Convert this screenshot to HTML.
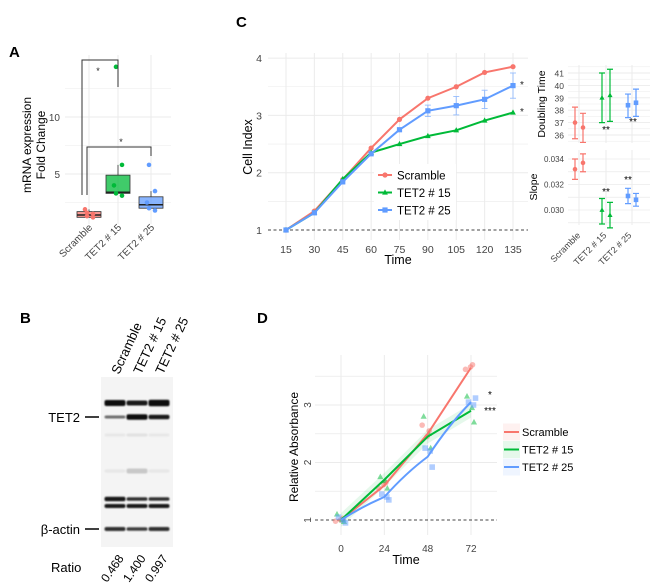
<!DOCTYPE html>
<html><head><meta charset="utf-8"><style>
body{margin:0;background:#fff;width:650px;height:583px;overflow:hidden}
svg{font-family:"Liberation Sans",sans-serif;display:block}
</style></head><body>
<svg id="fig" width="650" height="583" viewBox="0 0 650 583">
<defs><filter id="blur" x="-20%" y="-100%" width="140%" height="300%"><feGaussianBlur stdDeviation="0.9"/></filter></defs>
<g id="A"></g>
<g id="B"></g>
<g id="C"></g>
<g id="D"></g>
</svg>
<script>
// ---- Panel A data ----
const aCats=["Scramble","TET2 # 15","TET2 # 25"];
const aBoxLo=[1.2,3.3,2.0];
const aBoxMed=[1.4,3.4,2.3];
const aBoxHi=[1.7,4.9,3.0];
const aWhiskHi=[1.9,5.8,3.5];
const aPts=[[1.3,1.5,1.9,1.6,1.2],[14.4,5.8,4.0,3.3,3.1],[5.8,3.5,2.5,2.0,1.8]];
const aTicks=[5,10];
// ---- Panel C data ----
const cTimes=[15,30,45,60,75,90,105,120,135];
const cScr=[1,1.33,1.88,2.43,2.93,3.3,3.5,3.75,3.85];
const cT15=[1,1.3,1.89,2.35,2.5,2.64,2.74,2.91,3.05];
const cT25=[1,1.3,1.84,2.33,2.75,3.08,3.17,3.28,3.52];
const cT25Err=[0,0,0,0,0,0.1,0.16,0.16,0.22];
const cYTicks=[1,2,3,4];
const dtMean=[37,36.6,39,39.2,38.4,38.6];
const dtLo=[35.7,35.4,37,37.1,37.4,37.5];
const dtHi=[38.25,37.75,41,41.3,39.3,39.7];
const dtTicks=[36,37,38,39,40,41];
const slMean=[0.0332,0.0337,0.0300,0.0296,0.0311,0.0308];
const slLo=[0.0324,0.0330,0.0289,0.0286,0.0305,0.0303];
const slHi=[0.0340,0.0344,0.0309,0.0306,0.0317,0.0313];
const slTicks=[0.030,0.032,0.034];
// ---- Panel D data ----
const dTimes=[0,24,48,72];
const dScr=[1,1.6,2.5,3.65];
const dT15=[1,1.7,2.45,2.9];
const dT25=[1,1.4,2.1,3.05];
const dScrPts=[[0.98,1.03,1.0],[1.55,1.65,1.62],[2.65,2.55,2.45],[3.62,3.7,3.66]];
const dT15Pts=[[1.1,0.97,1.0],[1.75,1.55,1.68],[2.8,2.25,2.5],[3.15,2.7,2.95]];
const dT25Pts=[[1.05,0.95,1.0],[1.45,1.35,1.4],[2.25,1.92,2.2],[3.05,3.12,3.0]];
const dYTicks=[1,2,3];
// ---- Panel B data ----
const bLanes=["Scramble","TET2 # 15","TET2 # 25"];
const bRatios=["0.468","1.400","0.997"];

const NS="http://www.w3.org/2000/svg";
const RED="#f8766d",GRN="#00ba38",BLU="#619cff";
const COLS=[RED,GRN,BLU];
function mk(p,t,a,txt){const e=document.createElementNS(NS,t);for(const k in a)e.setAttribute(k,a[k]);if(txt!=null)e.textContent=txt;p.appendChild(e);return e;}
function label(p,x,y,txt,size,anchor,extra){return mk(p,'text',Object.assign({x:x,y:y,'font-size':size,'text-anchor':anchor||'middle',fill:'#222'},extra||{}),txt);}

// ===== Panel A =====
(function(){
const g=document.getElementById('A');
let t=label(g,9,57,'A',15,'start',{'font-weight':'bold',fill:'#000'});

const yA=v=>174-(v-5)*11.4, xA=i=>[89,118,151][i];
for(let v=2.5;v<=12.5;v+=2.5){const l=mk(g,'line',{x1:65,x2:171,y1:yA(v),y2:yA(v),stroke:'#ebebeb','stroke-width':v%5?0.6:1});}
for(let i=0;i<3;i++){const l=mk(g,'line',{x1:xA(i),x2:xA(i),y1:55,y2:224,stroke:'#ebebeb','stroke-width':1});}
aTicks.forEach(v=>{const e=label(g,60,yA(v)+4,String(v),10,'end',{fill:'#444'});});
const y1=label(g,31,145,'mRNA expression',12,'middle',{transform:'rotate(-90 31 145)',fill:'#000'});

const y2=label(g,45,145,'Fold Change',12,'middle',{transform:'rotate(-90 45 145)',fill:'#000'});

aCats.forEach((c,i)=>{
 const x=xA(i);
 const w=mk(g,'line',{x1:x,x2:x,y1:yA(aWhiskHi[i]),y2:yA(aBoxHi[i]),stroke:'#555'});
 const b=mk(g,'rect',{x:x-12,y:yA(aBoxHi[i]),width:24,height:yA(aBoxLo[i])-yA(aBoxHi[i]),fill:COLS[i],'fill-opacity':0.75,stroke:'#333','stroke-width':0.8});
 
 const m=mk(g,'line',{x1:x-12,x2:x+12,y1:yA(aBoxMed[i]),y2:yA(aBoxMed[i]),stroke:'#222','stroke-width':1.5});
 aPts[i].forEach((v,j)=>{const p=mk(g,'circle',{cx:x+[-2,4,-4,-2,4][j],cy:yA(v),r:2.3,fill:COLS[i]});});
 const lb=label(g,x+4,228,c,10,'end',{transform:`rotate(-45 ${x+4} 228)`,fill:'#444'});
});
const br=mk(g,'path',{d:'M82 195V60H118V87',fill:'none',stroke:'#333','stroke-width':1});
const br2=mk(g,'path',{d:'M87 195V147H151V156',fill:'none',stroke:'#333','stroke-width':1});
let s=label(g,98,74,'*',9);
s=label(g,121,145,'*',9);
})();

// ===== Panel B =====
(function(){
const g=document.getElementById('B');
let t=label(g,20,323,'B',15,'start',{'font-weight':'bold',fill:'#000'});
const blot=mk(g,'rect',{x:101,y:377,width:72,height:170,fill:'#f4f4f4'});
const lanes=[115,137,159];
const bands=[[403,[6,5,6.5],[1,0.95,1]],[417,[3,5.5,4.5],[0.6,1,0.95]],[435,[3,3,3],[0.05,0.08,0.05]],[471,[3,5,3],[0.06,0.18,0.06]],[499,[4.5,3.5,3.5],[0.95,0.85,0.85]],[506,[4,4,4],[0.95,0.95,0.95]],[529,[4,3.5,4],[0.85,0.8,0.85]]];
const bg=mk(g,'g',{filter:'url(#blur)'});
bands.forEach(b=>lanes.forEach((x,i)=>{const r=mk(bg,'rect',{x:x-10.5,y:b[0]-b[1][i]/2,width:21,height:b[1][i],rx:2,fill:'#111','fill-opacity':b[2][i]});}));
bLanes.forEach((n,i)=>{const x=lanes[i]+4;const e=label(g,x,375,n,13,'start',{transform:`rotate(-65 ${x} 375)`,fill:'#000'});});
let e=label(g,80,422,'TET2',13,'end',{fill:'#000'});
mk(g,'line',{x1:85,x2:99,y1:417,y2:417,stroke:'#000','stroke-width':1.5});
e=label(g,80,534,'β-actin',13,'end',{fill:'#000'});
mk(g,'line',{x1:85,x2:99,y1:529,y2:529,stroke:'#000','stroke-width':1.5});
e=label(g,51,572,'Ratio',13,'start',{fill:'#000'});
bRatios.forEach((r,i)=>{const x=lanes[i]-8,y=583;const el=label(g,x,y,r,12,'start',{transform:`rotate(-55 ${x} ${y})`,fill:'#000'});});
})();

// ===== Panel C =====
(function(){
const g=document.getElementById('C');
let t=label(g,236,27,'C',15,'start',{'font-weight':'bold',fill:'#000'});
const xC=v=>286+(v-15)*(227/120), yC=v=>230-(v-1)*57.3;
for(let v=1.5;v<=4;v+=0.5){const l=mk(g,'line',{x1:268,x2:528,y1:yC(v),y2:yC(v),stroke:'#ebebeb','stroke-width':v%1?0.6:1});}
cTimes.forEach(v=>{const l=mk(g,'line',{x1:xC(v),x2:xC(v),y1:53,y2:240,stroke:'#ebebeb'});
 const e=label(g,xC(v),253,String(v),10.5,'middle',{fill:'#444'});});
cYTicks.forEach(v=>{const e=label(g,262,yC(v)+4,String(v),10.5,'end',{fill:'#444'});});
const dl=mk(g,'line',{x1:268,x2:528,y1:yC(1),y2:yC(1),stroke:'#444','stroke-dasharray':'3,2.5','stroke-width':1});
let e=label(g,398,264,'Time',12.5,'middle',{fill:'#000'});
e=label(g,252,147,'Cell Index',12.5,'middle',{transform:'rotate(-90 252 147)',fill:'#000'});
function marker(p,x,y,i,sz,op){let m;
 if(i===0)m=mk(p,'circle',{cx:x,cy:y,r:sz,fill:COLS[0],'fill-opacity':op});
 else if(i===1)m=mk(p,'path',{d:`M${x} ${y-sz*1.2}L${x+sz*1.1} ${y+sz*0.8}L${x-sz*1.1} ${y+sz*0.8}Z`,fill:COLS[1],'fill-opacity':op});
 else m=mk(p,'rect',{x:x-sz,y:y-sz,width:2*sz,height:2*sz,fill:COLS[2],'fill-opacity':op});
 return m;}
cTimes.forEach((v,k)=>{if(!cT25Err[k])return;const x=xC(v),lo=yC(cT25[k]-cT25Err[k]),hi=yC(cT25[k]+cT25Err[k]);
 const eb=mk(g,'path',{d:`M${x} ${lo}V${hi}M${x-3} ${lo}H${x+3}M${x-3} ${hi}H${x+3}`,stroke:BLU,'stroke-opacity':0.6,fill:'none'});});
[cScr,cT15,cT25].forEach((s,i)=>{
 const ln=mk(g,'polyline',{points:s.map((v,k)=>xC(cTimes[k])+','+yC(v)).join(' '),fill:'none',stroke:COLS[i],'stroke-width':2});
 
 s.forEach((v,k)=>{const m=marker(g,xC(cTimes[k]),yC(v),i,2.6,1);});
});
e=label(g,522,88,'*',10);
e=label(g,522,115,'*',10);
const lg=mk(g,'g',{});
mk(lg,'rect',{x:374,y:164,width:82,height:56,fill:'#fff'});
['Scramble','TET2 # 15','TET2 # 25'].forEach((n,i)=>{const y=175+i*17.5;
 const ent=mk(lg,'g',{});
 mk(ent,'line',{x1:378,x2:392,y1:y,y2:y,stroke:COLS[i],'stroke-width':2});marker(ent,385,y,i,2.6,1);
 label(ent,397,y+4.5,n,11.5,'start',{fill:'#000'});});
const xs=[575,583,602,610,628,636];
const yD=v=>135-(v-36)*12.4;
for(let v=35.5;v<=41.5;v+=0.5){const l=mk(g,'line',{x1:568,x2:650,y1:yD(v),y2:yD(v),stroke:'#ebebeb','stroke-width':v%1?0.5:0.9});}
[579,606,632].forEach(x=>{mk(g,'line',{x1:x,x2:x,y1:65,y2:143,stroke:'#ebebeb'});mk(g,'line',{x1:x,x2:x,y1:150,y2:225,stroke:'#ebebeb'});});
dtTicks.forEach(v=>{const e2=label(g,564,yD(v)+3.5,String(v),8.5,'end',{fill:'#444'});});
e=label(g,545,104,'Doubling Time',10.5,'middle',{transform:'rotate(-90 545 104)',fill:'#000'});
const ySl=v=>210-(v-0.030)*12750;
for(let v=0.029;v<=0.0345;v+=0.001){const l=mk(g,'line',{x1:568,x2:650,y1:ySl(v),y2:ySl(v),stroke:'#ebebeb','stroke-width':0.7});}
slTicks.forEach(v=>{const e2=label(g,564,ySl(v)+3,v.toFixed(3),8,'end',{fill:'#444'});});
e=label(g,537,187,'Slope',10.5,'middle',{transform:'rotate(-90 537 187)',fill:'#000'});
function ebar(x,lo,hi,m,i){const c=COLS[i];
 const eb=mk(g,'path',{d:`M${x} ${lo}V${hi}M${x-3} ${lo}H${x+3}M${x-3} ${hi}H${x+3}`,stroke:c,'stroke-width':1.2,fill:'none'});
 const mm=marker(g,x,m,i,2.3,1);}
dtMean.forEach((v,k)=>ebar(xs[k],yD(dtLo[k]),yD(dtHi[k]),yD(v),Math.floor(k/2)));
slMean.forEach((v,k)=>ebar(xs[k],ySl(slLo[k]),ySl(slHi[k]),ySl(v),Math.floor(k/2)));
[[606,133],[633,125],[606,195],[628,183]].forEach(p=>{const s=label(g,p[0],p[1],'**',10,'middle',{fill:'#000'});});
['Scramble','TET2 # 15','TET2 # 25'].forEach((n,i)=>{const x=[581,607,632][i];const e2=label(g,x,236,n,9,'end',{transform:`rotate(-45 ${x} 236)`,fill:'#444'});});
})();

// ===== Panel D =====
(function(){
const g=document.getElementById('D');
let t=label(g,257,323,'D',15,'start',{'font-weight':'bold',fill:'#000'});
const xD=v=>341+v*(130/72), yD=v=>520-(v-1)*57.5;
for(let v=1.5;v<=3.5;v+=0.5){const l=mk(g,'line',{x1:315,x2:497,y1:yD(v),y2:yD(v),stroke:'#ebebeb','stroke-width':v%1?0.7:1.1});}
dTimes.forEach(v=>{const l=mk(g,'line',{x1:xD(v),x2:xD(v),y1:355,y2:535,stroke:'#ebebeb'});
 const e=label(g,xD(v),552,String(v),10,'middle',{fill:'#444'});});
dYTicks.forEach(v=>{const y=yD(v);const e=label(g,311,y,String(v),10,'middle',{transform:`rotate(-90 311 ${y})`,fill:'#444'});});
const dl=mk(g,'line',{x1:315,x2:497,y1:yD(1),y2:yD(1),stroke:'#444','stroke-dasharray':'3,2.5'});
let e=label(g,406,564,'Time',12.5,'middle',{fill:'#000'});
e=label(g,298,447,'Relative Absorbance',12,'middle',{transform:'rotate(-90 298 447)',fill:'#000'});
const band=mk(g,'polygon',{points:dT15.map((v,k)=>xD(dTimes[k])+','+yD(v+0.12)).concat(dT15.slice().reverse().map((v,k)=>xD(dTimes[3-k])+','+yD(v-0.12))).join(' '),fill:GRN,'fill-opacity':0.1});

function marker(x,y,i,op){let m;const sz=2.8;
 if(i===0)m=mk(g,'circle',{cx:x,cy:y,r:sz,fill:COLS[0],'fill-opacity':op});
 else if(i===1)m=mk(g,'path',{d:`M${x} ${y-sz*1.2}L${x+sz*1.1} ${y+sz*0.8}L${x-sz*1.1} ${y+sz*0.8}Z`,fill:COLS[1],'fill-opacity':op});
 else m=mk(g,'rect',{x:x-sz,y:y-sz,width:2*sz,height:2*sz,fill:COLS[2],'fill-opacity':op});
 }
[dScrPts,dT15Pts,dT25Pts].forEach((S,i)=>S.forEach((arr,k)=>arr.forEach((v,j)=>marker(xD(dTimes[k])+[-4,3,1][j]+(i-1)*1.5,yD(v),i,0.5))));
[dScr,dT15].forEach((s,i)=>{const ln=mk(g,'polyline',{points:s.map((v,k)=>xD(dTimes[k])+','+yD(v)).join(' '),fill:'none',stroke:COLS[i],'stroke-width':2});});
let p=dT25.map((v,k)=>[xD(dTimes[k]),yD(v)]);
let d=`M${p[0][0]} ${p[0][1]}`;for(let k=1;k<p.length;k++){const a=p[k-1],b=p[k];const c=[(a[0]+b[0])/2,a[1]+(b[1]-a[1])*0.6];d+=` Q${c[0]} ${c[1]} ${b[0]} ${b[1]}`;}
const bl=mk(g,'path',{d:d,fill:'none',stroke:BLU,'stroke-width':2});
e=label(g,490,398,'*',10,'middle',{fill:'#000'});
e=label(g,490,414,'***',10,'middle',{fill:'#000'});
const lg=mk(g,'g',{});
['Scramble','TET2 # 15','TET2 # 25'].forEach((n,i)=>{const y=432+i*17.5;
 const ent=mk(lg,'g',{});
 mk(ent,'rect',{x:503,y:y-8.5,width:17,height:17,fill:COLS[i],'fill-opacity':0.1});
 mk(ent,'line',{x1:504,x2:519,y1:y,y2:y,stroke:COLS[i],'stroke-width':2});
 label(ent,522,y+4,n,11,'start',{fill:'#000'});});
})();
</script>
</body></html>
